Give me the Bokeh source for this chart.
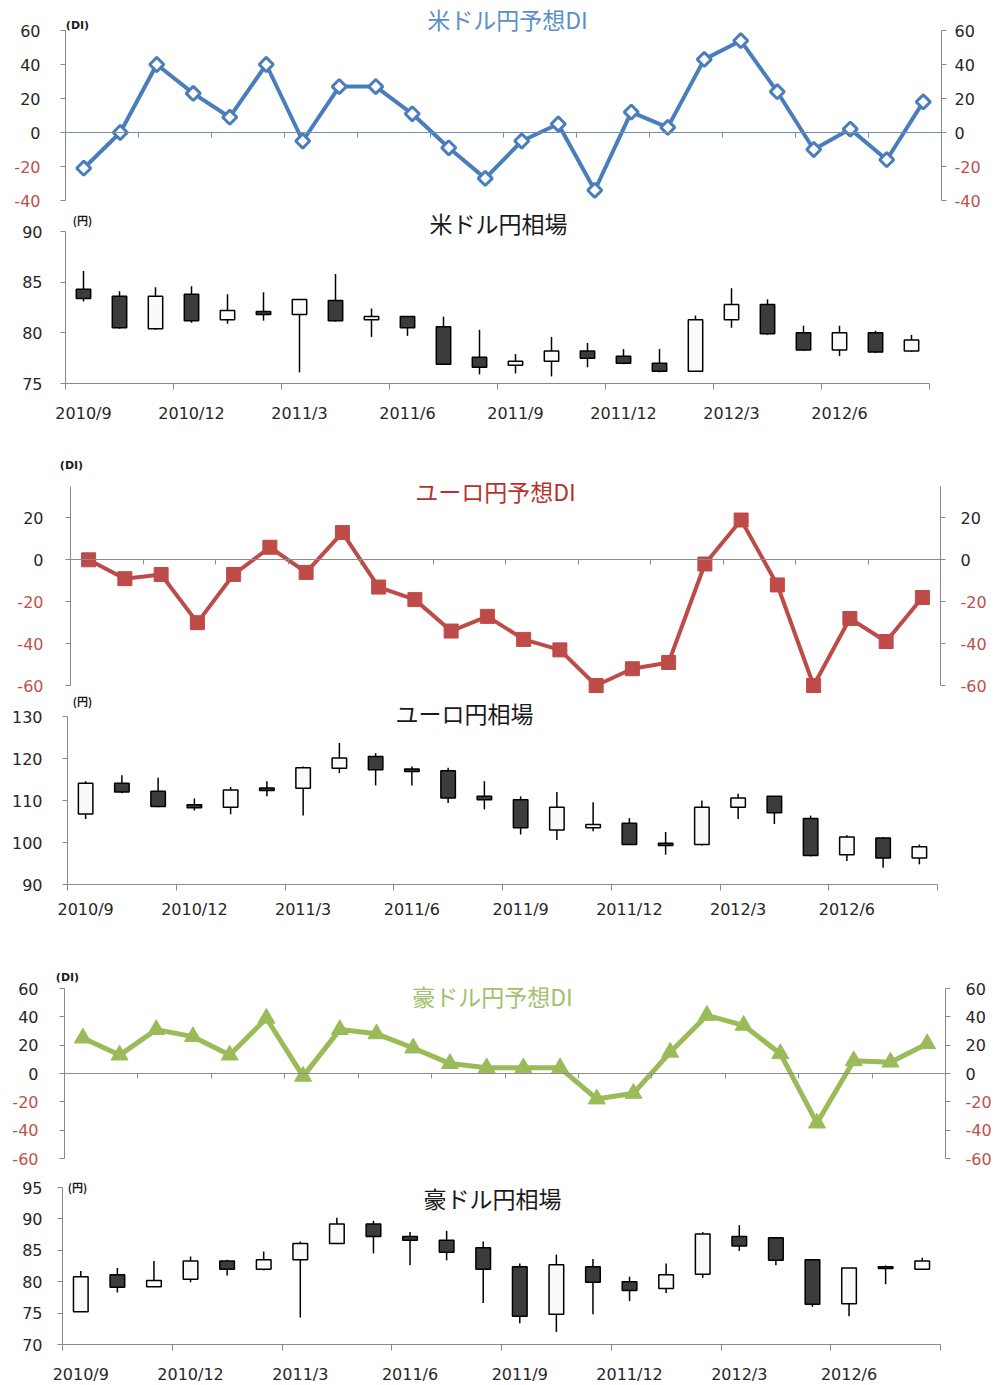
import numpy as np
from bokeh.plotting import figure
from bokeh.models import LinearAxis, FixedTicker, Range1d, ColumnDataSource, Label
from bokeh.embed import file_html
from bokeh.resources import INLINE

# ---------------- data ----------------
months = ["2010/9", "2010/10", "2010/11", "2010/12", "2011/1", "2011/2", "2011/3", "2011/4",
          "2011/5", "2011/6", "2011/7", "2011/8", "2011/9", "2011/10", "2011/11", "2011/12",
          "2012/1", "2012/2", "2012/3", "2012/4", "2012/5", "2012/6", "2012/7", "2012/8"]

usd_di = [-21, 0, 40, 23, 9, 40, -5, 27, 27, 11, -9, -27, -5, 5, -34, 12, 3, 43, 54, 24, -10, 2, -16, 18]
eur_di = [0, -9, -7, -30, -7, 6, -6, 13, -13, -19, -34, -27, -38, -43, -60, -52, -49, -2, 19, -12, -60, -28, -39, -18]
aud_di = [25, 13, 31, 26, 13, 39, -2, 31, 28, 18, 7, 4, 4, 4, -18, -14, 15, 41, 34, 14, -35, 9, 8, 21]

usd_open  = [84.3, 83.6, 80.4, 83.8, 81.3, 82.1, 81.8, 83.2, 81.3, 81.6, 80.6, 77.6, 76.8, 77.2, 78.2, 77.7, 77.0, 76.2, 81.3, 82.8, 80.0, 78.3, 80.0, 78.2]
usd_high  = [86.1, 84.1, 84.5, 84.6, 83.8, 84.0, 83.3, 85.8, 82.4, 81.6, 81.6, 80.3, 77.9, 79.6, 79.0, 78.4, 78.4, 81.7, 84.4, 83.3, 80.7, 80.7, 80.2, 79.8]
usd_low   = [83.1, 80.4, 80.3, 81.0, 80.9, 81.2, 76.1, 81.1, 79.6, 79.7, 76.9, 75.9, 76.0, 75.7, 76.6, 76.9, 76.1, 76.2, 80.5, 79.8, 78.2, 77.7, 78.0, 78.1]
usd_close = [83.4, 80.5, 83.6, 81.2, 82.2, 81.8, 83.3, 81.2, 81.6, 80.5, 76.9, 76.6, 77.2, 78.2, 77.5, 77.0, 76.2, 81.3, 82.8, 79.9, 78.3, 80.0, 78.1, 79.3]

eur_open  = [106.8, 114.1, 112.2, 109.0, 108.4, 113.0, 112.9, 117.7, 120.5, 117.5, 117.1, 111.0, 110.2, 103.0, 103.5, 104.6, 99.8, 99.5, 108.4, 111.0, 105.7, 97.1, 101.1, 96.3]
eur_high  = [114.6, 116.0, 115.4, 110.5, 113.2, 114.6, 118.1, 123.7, 121.3, 118.1, 117.8, 114.6, 111.0, 112.0, 109.6, 105.8, 102.5, 110.0, 111.6, 111.0, 106.4, 101.7, 101.3, 99.5]
eur_low   = [105.6, 111.7, 108.4, 107.6, 106.7, 111.0, 106.4, 116.5, 113.6, 113.6, 109.4, 107.9, 101.9, 100.6, 102.7, 99.5, 97.1, 99.3, 105.6, 104.4, 96.7, 95.6, 94.0, 94.8]
eur_close = [114.1, 112.0, 108.6, 108.3, 112.5, 112.4, 117.8, 120.1, 117.3, 116.9, 110.6, 110.2, 103.5, 108.4, 104.3, 99.5, 99.3, 108.4, 110.6, 107.1, 96.9, 101.3, 96.3, 99.0]

aud_open  = [75.2, 81.1, 79.2, 80.4, 83.3, 82.0, 83.5, 86.1, 89.2, 87.2, 86.6, 85.4, 82.4, 74.8, 82.4, 80.0, 78.9, 81.2, 87.2, 87.0, 83.5, 76.5, 82.4, 82.0]
aud_high  = [81.7, 82.2, 83.3, 84.0, 83.5, 84.8, 86.4, 90.2, 89.7, 87.9, 88.1, 86.4, 82.9, 84.3, 83.6, 80.8, 82.9, 87.9, 89.0, 87.1, 83.5, 82.2, 82.6, 83.8]
aud_low   = [75.2, 78.3, 79.2, 79.9, 81.0, 81.8, 74.3, 86.1, 84.5, 82.6, 83.4, 76.6, 73.4, 72.0, 74.8, 76.9, 78.2, 80.6, 84.9, 82.6, 76.0, 74.5, 79.6, 81.9]
aud_close = [80.8, 79.1, 80.2, 83.3, 82.0, 83.5, 86.1, 89.2, 87.2, 86.6, 84.7, 82.0, 74.5, 82.7, 79.9, 78.6, 81.1, 87.6, 85.7, 83.4, 76.4, 82.2, 82.1, 83.3]

di_ticks_usd = [-40, -20, 0, 20, 40, 60]
di_ticks_eur = [-60, -40, -20, 0, 20]
di_ticks_aud = [-60, -40, -20, 0, 20, 40, 60]
px_ticks_usd = [75, 80, 85, 90]
px_ticks_eur = [90, 100, 110, 120, 130]
px_ticks_aud = [70, 75, 80, 85, 90, 95]

# ---------------- style / layout ----------------
W, H = 999, 1385
N = len(months)
JP = "Noto Sans CJK JP"
NUM = "DejaVu Sans"
GRAY = "#898989"
TXT = "#262626"
NEG = "#C0504D"

# plot-area geometry of each panel on the page (pixels) and its value range
g1 = dict(name="1", ft=30, fb=200, fl=65, fr=941, y0=-40, y1=60)
g2 = dict(name="2", ft=231, fb=383, fl=65, fr=929, y0=75, y1=90)
g3 = dict(name="3", ft=486, fb=685, fl=70, fr=940, y0=-60, y1=35)
g4 = dict(name="4", ft=716, fb=884, fl=67, fr=937, y0=90, y1=130)
g5 = dict(name="5", ft=988, fb=1158, fl=64, fr=945, y0=-60, y1=60)
g6 = dict(name="6", ft=1187, fb=1344, fl=62, fr=940, y0=70, y1=95)
panels = [g1, g2, g3, g4, g5, g6]


def to_x(g, px):
    return (px - g["fl"]) / ((g["fr"] - g["fl"]) / N)


def to_y(g, py):
    return g["y1"] - (py - g["ft"]) / ((g["fb"] - g["ft"]) / (g["y1"] - g["y0"]))


def rn(g):
    return dict(x_range_name="x" + g["name"], y_range_name="y" + g["name"])


p = figure(width=W, height=H, x_range=Range1d(0, W), y_range=Range1d(H, 0), title=None,
           output_backend="svg", toolbar_location=None,
           x_axis_location=None, y_axis_location=None,
           min_border_top=0, min_border_bottom=0, min_border_left=0, min_border_right=0,
           outline_line_color=None, background_fill_color="white", border_fill_color="white")
p.grid.visible = False
p.extra_x_ranges = {"x" + g["name"]: Range1d(to_x(g, 0), to_x(g, W)) for g in panels}
p.extra_y_ranges = {"y" + g["name"]: Range1d(to_y(g, H), to_y(g, 0)) for g in panels}


def y_axis(g, side, ticks, standoff, red_neg):
    loc = 0 if side == "left" else N
    bounds = (g["y0"], g["y1"])
    negs = [t for t in ticks if t < 0] if red_neg else []
    ax = LinearAxis(ticker=FixedTicker(ticks=ticks), fixed_location=loc, bounds=bounds,
                    axis_line_color=GRAY, major_tick_line_color=GRAY,
                    major_tick_out=5, major_tick_in=0, minor_tick_line_color=None,
                    major_label_standoff=standoff, major_label_text_font=NUM,
                    major_label_text_font_size="16px", major_label_text_color=TXT, **rn(g))
    if negs:
        ax.major_label_overrides = {t: "" for t in negs}
    p.add_layout(ax, side)
    if negs:
        ax2 = LinearAxis(ticker=FixedTicker(ticks=negs), fixed_location=loc, bounds=bounds,
                         axis_line_color=None, major_tick_line_color=None,
                         major_tick_out=5, major_tick_in=0, minor_tick_line_color=None,
                         major_label_standoff=standoff, major_label_text_font=NUM,
                         major_label_text_font_size="16px", major_label_text_color=NEG,
                         major_label_overrides={t: str(t) for t in negs}, **rn(g))
        p.add_layout(ax2, side)


def add_text(g, px, py, text, font, size, color, bold=False):
    p.add_layout(Label(x=to_x(g, px), y=to_y(g, py), text=text, text_align="center",
                       text_baseline="middle", text_font=font, text_font_size=size,
                       text_color=color, text_font_style="bold" if bold else "normal", **rn(g)))


def di_panel(g, vals, ticks, color, zero_color, marker, msize, mfill, mlw, lw,
             title, tpos, tcolor, upos, lstand, rstand):
    bt = list(range(0, N + 1, 2))
    xa = LinearAxis(ticker=FixedTicker(ticks=bt), fixed_location=0, bounds=(0, N),
                    axis_line_color=zero_color, major_tick_line_color=zero_color,
                    major_tick_out=5, major_tick_in=0, minor_tick_line_color=None,
                    major_label_text_font_size="1px", major_label_standoff=0,
                    major_label_overrides={t: "" for t in bt}, **rn(g))
    p.add_layout(xa, "below")
    y_axis(g, "left", ticks, lstand, True)
    y_axis(g, "right", ticks, rstand, True)
    x = [i + 0.5 for i in range(N)]
    p.line(x, vals, line_width=lw, line_color=color, **rn(g))
    if marker == "diamond":
        p.scatter(x, vals, marker="square", angle=np.pi / 4, size=msize, fill_color=mfill,
                  line_color=color, line_width=mlw, **rn(g))
    else:
        p.scatter(x, vals, marker=marker, size=msize, fill_color=mfill,
                  line_color=color, line_width=mlw, **rn(g))
    add_text(g, tpos[0], tpos[1], title, JP, "23px", tcolor)
    add_text(g, upos[0], upos[1], "(DI)", NUM, "11px", "#1a1a1a", bold=True)


def candle_panel(g, o, h, l, c, ticks, title, tpos, upos, xstand, ystand):
    idx = list(range(0, N, 3))
    xt = FixedTicker(ticks=[i + 0.5 for i in idx], minor_ticks=list(range(0, N + 1, 3)))
    xa = LinearAxis(ticker=xt, fixed_location=g["y0"], bounds=(0, N),
                    major_label_overrides={i + 0.5: months[i] for i in idx},
                    axis_line_color=GRAY, major_tick_out=0, major_tick_in=0,
                    minor_tick_out=6, minor_tick_in=0, minor_tick_line_color=GRAY,
                    major_label_standoff=xstand, major_label_text_font=NUM,
                    major_label_text_font_size="16px", major_label_text_color=TXT, **rn(g))
    p.add_layout(xa, "below")
    y_axis(g, "left", ticks, ystand, False)
    x = [i + 0.5 for i in range(N)]
    top = [max(a, b) for a, b in zip(o, c)]
    bot = [min(a, b) for a, b in zip(o, c)]
    fill = ["#FAFAFA" if cc >= oo else "#3C3C3C" for oo, cc in zip(o, c)]
    src = ColumnDataSource(dict(x=x, h=h, l=l, top=top, bot=bot, fill=fill))
    p.segment(x0="x", y0="h", x1="x", y1="l", source=src, line_color="black", line_width=1.5, **rn(g))
    p.vbar(x="x", width=0.4, top="top", bottom="bot", fill_color="fill", line_color="black",
           line_width=1.5, source=src, **rn(g))
    add_text(g, tpos[0], tpos[1], title, JP, "23px", "#1a1a1a")
    add_text(g, upos[0], upos[1], "(円)", JP, "11px", "#1a1a1a", bold=True)


di_panel(g1, usd_di, di_ticks_usd, "#4A7EBB", "#6F8FB5", "diamond", 10, "white", 3, 4,
         "米ドル円予想DI", (507, 18), "#5B8FC9", (77, 25), 20, 8)
candle_panel(g2, usd_open, usd_high, usd_low, usd_close, px_ticks_usd,
             "米ドル円相場", (498, 222), (82, 219), 14, 18)
di_panel(g3, eur_di, di_ticks_eur, "#BE4B48", "#8C8C8C", "square", 14, "#BE4B48", 1, 4,
         "ユーロ円予想DI", (495, 490), "#B8312F", (71, 465), 22, 15)
candle_panel(g4, eur_open, eur_high, eur_low, eur_close, px_ticks_eur,
             "ユーロ円相場", (464, 712), (82, 700), 9, 20)
di_panel(g5, aud_di, di_ticks_aud, "#9BBB59", "#8C8C8C", "triangle", 17, "#9BBB59", 1, 5,
         "豪ドル円予想DI", (492, 995), "#A3C06A", (67, 977), 21, 15)
candle_panel(g6, aud_open, aud_high, aud_low, aud_close, px_ticks_aud,
             "豪ドル円相場", (492, 1197), (77, 1186), 14, 15)

open("out.html", "w").write(file_html(p, INLINE, title="為替予想DI"))
